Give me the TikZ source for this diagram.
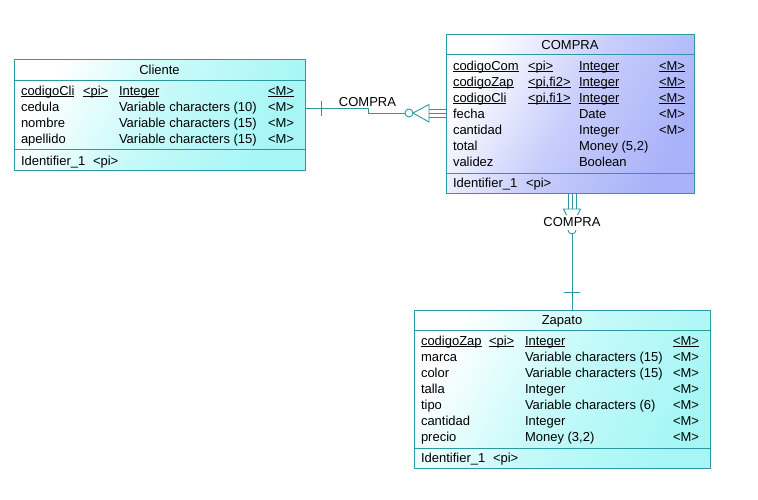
\documentclass[tikz,border=0pt]{standalone}
\usepackage{fontspec}
\setmainfont{Liberation Sans}
\definecolor{bord}{HTML}{2A9AA0}
\definecolor{cyanend}{HTML}{A6F6F6}
\definecolor{lavend}{HTML}{A9B2F9}
\newcommand{\myul}[1]{\setbox0=\hbox{#1}\rlap{\rule[-1.6pt]{\wd0}{0.7pt}}#1}
\begin{document}
\begin{tikzpicture}[x=1pt,y=-1pt,
  font=\fontsize{13}{15}\selectfont,
  entity/.style={draw=bord, line width=0.9pt, inner sep=0pt, outer sep=0pt},
  cyanbox/.style={entity, top color=white, bottom color=cyanend, middle color=cyanend!65!white, shading angle=60},
  lavbox/.style={entity, top color=white, bottom color=lavend, middle color=lavend!65!white, shading angle=60},
  sep/.style={draw=bord, line width=0.9pt},
  txt/.style={anchor=base west, inner sep=0pt, outer sep=0pt},
  ttl/.style={anchor=base, inner sep=0pt, outer sep=0pt},
  conn/.style={draw=bord, line width=0.9pt},
  lbl/.style={fill=white, inner sep=1pt, outer sep=0pt}]
\useasboundingbox (0,0) rectangle (758,499);
\fill[white] (0,0) rectangle (758,499);

% ---------- Cliente ----------
\node[cyanbox, minimum width=291pt, minimum height=111pt] (cliente) at (159.5,114.5) {};
\draw[sep] (14,80) -- (305,80);
\draw[sep] (14,149) -- (305,149);
\node[ttl] (clt) at (159.5,74) {Cliente};
\node[txt] (cl1a) at (21,95) {\myul{codigoCli}};
\node[txt] (cl1b) at (83,95) {\myul{<pi>}};
\node[txt] (cl1c) at (119,95) {\myul{Integer}};
\node[txt] (cl1d) at (268,95) {\myul{<M>}};
\node[txt] (cl2a) at (21,111) {cedula};
\node[txt] (cl2c) at (119,111) {Variable characters (10)};
\node[txt] (cl2d) at (268,111) {<M>};
\node[txt] (cl3a) at (21,127) {nombre};
\node[txt] (cl3c) at (119,127) {Variable characters (15)};
\node[txt] (cl3d) at (268,127) {<M>};
\node[txt] (cl4a) at (21,143) {apellido};
\node[txt] (cl4c) at (119,143) {Variable characters (15)};
\node[txt] (cl4d) at (268,143) {<M>};
\node[txt] (clia) at (21,165) {Identifier\_1};
\node[txt] (clib) at (93,165) {<pi>};

% ---------- COMPRA ----------
\node[lavbox, minimum width=248pt, minimum height=159pt] (compra) at (570,113.5) {};
\draw[sep] (446,54) -- (694,54);
\draw[sep] (446,173) -- (694,173);
\node[ttl] (cot) at (570,49) {COMPRA};
\node[txt] (co1a) at (453,70) {\myul{codigoCom}};
\node[txt] (co1b) at (528,70) {\myul{<pi>}};
\node[txt] (co1c) at (579,70) {\myul{Integer}};
\node[txt] (co1d) at (659,70) {\myul{<M>}};
\node[txt] (co2a) at (453,86) {\myul{codigoZap}};
\node[txt] (co2b) at (528,86) {\myul{<pi,fi2>}};
\node[txt] (co2c) at (579,86) {\myul{Integer}};
\node[txt] (co2d) at (659,86) {\myul{<M>}};
\node[txt] (co3a) at (453,102) {\myul{codigoCli}};
\node[txt] (co3b) at (528,102) {\myul{<pi,fi1>}};
\node[txt] (co3c) at (579,102) {\myul{Integer}};
\node[txt] (co3d) at (659,102) {\myul{<M>}};
\node[txt] (co4a) at (453,118) {fecha};
\node[txt] (co4c) at (579,118) {Date};
\node[txt] (co4d) at (659,118) {<M>};
\node[txt] (co5a) at (453,134) {cantidad};
\node[txt] (co5c) at (579,134) {Integer};
\node[txt] (co5d) at (659,134) {<M>};
\node[txt] (co6a) at (453,150) {total};
\node[txt] (co6c) at (579,150) {Money (5,2)};
\node[txt] (co7a) at (453,166) {validez};
\node[txt] (co7c) at (579,166) {Boolean};
\node[txt] (coia) at (453,187) {Identifier\_1};
\node[txt] (coib) at (526,187) {<pi>};

% ---------- Zapato ----------
\node[cyanbox, minimum width=296pt, minimum height=158pt] (zapato) at (562,389) {};
\draw[sep] (414,330) -- (710,330);
\draw[sep] (414,448) -- (710,448);
\node[ttl] (zat) at (562,324) {Zapato};
\node[txt] (za1a) at (421,345) {\myul{codigoZap}};
\node[txt] (za1b) at (489,345) {\myul{<pi>}};
\node[txt] (za1c) at (525,345) {\myul{Integer}};
\node[txt] (za1d) at (673,345) {\myul{<M>}};
\node[txt] (za2a) at (421,361) {marca};
\node[txt] (za2c) at (525,361) {Variable characters (15)};
\node[txt] (za2d) at (673,361) {<M>};
\node[txt] (za3a) at (421,377) {color};
\node[txt] (za3c) at (525,377) {Variable characters (15)};
\node[txt] (za3d) at (673,377) {<M>};
\node[txt] (za4a) at (421,393) {talla};
\node[txt] (za4c) at (525,393) {Integer};
\node[txt] (za4d) at (673,393) {<M>};
\node[txt] (za5a) at (421,409) {tipo};
\node[txt] (za5c) at (525,409) {Variable characters (6)};
\node[txt] (za5d) at (673,409) {<M>};
\node[txt] (za6a) at (421,425) {cantidad};
\node[txt] (za6c) at (525,425) {Integer};
\node[txt] (za6d) at (673,425) {<M>};
\node[txt] (za7a) at (421,441) {precio};
\node[txt] (za7c) at (525,441) {Money (3,2)};
\node[txt] (za7d) at (673,441) {<M>};
\node[txt] (zaia) at (421,462) {Identifier\_1};
\node[txt] (zaib) at (493,462) {<pi>};

% ---------- Connector Cliente - COMPRA ----------
\coordinate (h0) at (305,108);
\coordinate (h1) at (368,108);
\coordinate (h2) at (368,113);
\coordinate (hc) at (409,113);
\coordinate (hap) at (413,113);
\coordinate (hb1) at (429,104.5);
\coordinate (hb2) at (429,122);
\draw[conn] (h0) -- (h1) -- (h2) -- (405,113);
\draw[conn] (hc) circle (4pt);
\draw[conn] (hap) -- (hb1) -- (hb2) -- cycle;
\draw[conn] (429,109) -- (446,109);
\draw[conn] (429,113) -- (446,113);
\draw[conn] (429,117) -- (446,117);
\draw[conn] (321,101) -- (321,116);
\node[lbl] (r1) at (367.5,102) {COMPRA};

% ---------- Connector COMPRA - Zapato ----------
\coordinate (vap) at (572,226);
\coordinate (vb1) at (563.5,209);
\coordinate (vb2) at (580.5,209);
\coordinate (vc) at (572,230);
\draw[conn] (568,193) -- (568,209);
\draw[conn] (572,193) -- (572,209);
\draw[conn] (576,193) -- (576,209);
\draw[conn] (vb1) -- (vb2) -- (vap) -- cycle;
\draw[conn] (vc) circle (4pt);
\draw[conn] (572,234) -- (572,310);
\draw[conn] (564,292) -- (580,292);
\node[lbl, inner ysep=2.5pt] (r2) at (572,222.5) {COMPRA};
\end{tikzpicture}
\end{document}
